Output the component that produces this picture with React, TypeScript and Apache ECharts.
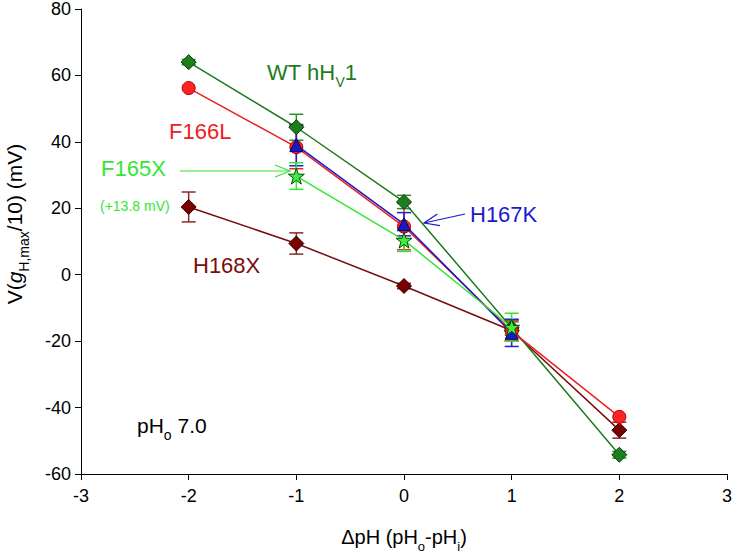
import React, { useEffect, useRef } from "react";
import * as echarts from "echarts";

// ---- Data ----
const xValues = [-2, -1, 0, 1, 2];

const wtMean: (number | null)[] = [64.0, 44.4, 21.9, -16.0, -54.2];
const wtErr: (number | null)[] = [0.8, 3.9, 2.0, 2.2, 1.0];

const f166lMean: (number | null)[] = [56.2, 38.4, 14.5, -17.0, -42.8];
const f166lErr: (number | null)[] = [0, 6.5, 7.0, 2.8, 0];

const h167kMean: (number | null)[] = [null, 39.0, 15.2, -17.5, null];
const h167kErr: (number | null)[] = [null, 6.2, 3.5, 4.1, null];

const f165xMean: (number | null)[] = [null, 29.7, 10.4, -15.8, null];
const f165xErr: (number | null)[] = [null, 4.0, 3.4, 4.2, null];

const h168xMean: (number | null)[] = [20.4, 9.4, -3.4, -16.8, -46.8];
const h168xErr: (number | null)[] = [4.5, 3.2, 0.8, 3.2, 2.4];

const xTicks = { min: -3, max: 3, interval: 1 };
const yTicks = { min: -60, max: 80, interval: 20 };

const FONT = "Liberation Sans";
const STAR =
  "path://M50,0 L61.8,35.4 L98.9,35.4 L68.8,57.3 L80.3,92.7 L50,70.8 L19.7,92.7 L31.2,57.3 L1.1,35.4 L38.2,35.4 Z";

type Seg = { t: string; sub?: boolean; italic?: boolean };

let ctx: CanvasRenderingContext2D | null = null;
function measure(t: string, fs: number, italic?: boolean) {
  if (!ctx) ctx = document.createElement("canvas").getContext("2d");
  if (!ctx) return t.length * fs * 0.55;
  ctx.font = `${italic ? "italic " : ""}${fs}px "${FONT}"`;
  return ctx.measureText(t).width;
}

function buildText(
  segs: Seg[],
  fs: number,
  color: string,
  anchorX: number,
  baselineY: number,
  align: "left" | "center"
) {
  const subFs = Math.round(fs * 0.65);
  const widths = segs.map((s) => measure(s.t, s.sub ? subFs : fs, s.italic));
  const total = widths.reduce((a, b) => a + b, 0);
  let x = align === "center" ? anchorX - total / 2 : anchorX;
  const out: any[] = [];
  segs.forEach((s, i) => {
    out.push({
      type: "text",
      x,
      y: s.sub ? baselineY + 0.1 * fs : baselineY - 0.35 * fs,
      silent: true,
      style: {
        text: s.t,
        fill: color,
        fontSize: s.sub ? subFs : fs,
        fontFamily: FONT,
        fontStyle: s.italic ? "italic" : "normal",
        align: "left",
        verticalAlign: "middle",
      },
    });
    x += widths[i];
  });
  return out;
}

function arrow(x1: number, y1: number, x2: number, y2: number, color: string) {
  const dx = x2 - x1;
  const dy = y2 - y1;
  const len = Math.sqrt(dx * dx + dy * dy);
  const ux = dx / len;
  const uy = dy / len;
  const hl = 15;
  const hw = 6;
  const bx = x2 - ux * hl;
  const by = y2 - uy * hl;
  return [
    {
      type: "line",
      silent: true,
      shape: { x1, y1, x2, y2 },
      style: { stroke: color, lineWidth: 1.2 },
    },
    {
      type: "polyline",
      silent: true,
      shape: {
        points: [
          [bx - uy * hw, by + ux * hw],
          [x2, y2],
          [bx + uy * hw, by - ux * hw],
        ],
      },
      style: { stroke: color, lineWidth: 1.2, fill: "none" },
    },
  ];
}

type SeriesDef = {
  name: string;
  mean: (number | null)[];
  err: (number | null)[];
  line: string;
  fill: string;
  border: string;
  errColor: string;
  symbol: string;
  size: number | number[];
};

const seriesDefs: SeriesDef[] = [
  {
    name: "H168X",
    mean: h168xMean,
    err: h168xErr,
    line: "#7a0c0c",
    fill: "#7a0000",
    border: "#2a0000",
    errColor: "#8a2a2a",
    symbol: "diamond",
    size: [15, 15],
  },
  {
    name: "WT hHV1",
    mean: wtMean,
    err: wtErr,
    line: "#1d7a1d",
    fill: "#1b7f1b",
    border: "#0a3a0a",
    errColor: "#2e8b2e",
    symbol: "diamond",
    size: [15, 15],
  },
  {
    name: "F166L",
    mean: f166lMean,
    err: f166lErr,
    line: "#f02020",
    fill: "#ff2424",
    border: "#b00000",
    errColor: "#e03030",
    symbol: "circle",
    size: 13,
  },
  {
    name: "H167K",
    mean: h167kMean,
    err: h167kErr,
    line: "#1a1acc",
    fill: "#1818c8",
    border: "#000060",
    errColor: "#2020d0",
    symbol: "triangle",
    size: 13,
  },
  {
    name: "F165X",
    mean: f165xMean,
    err: f165xErr,
    line: "#33e633",
    fill: "#3cf03c",
    border: "#0a4a0a",
    errColor: "#33e633",
    symbol: STAR,
    size: 16,
  },
];

export default function App() {
  const ref = useRef<HTMLDivElement>(null);

  useEffect(() => {
    if (!ref.current) return;
    const chart = echarts.init(ref.current, undefined, { renderer: "svg" });

    const series: any[] = [];
    seriesDefs.forEach((d) => {
      const pts: number[][] = [];
      const errPts: number[][] = [];
      xValues.forEach((x, i) => {
        const m = d.mean[i];
        if (m === null || m === undefined) return;
        pts.push([x, m]);
        const e = d.err[i];
        if (e) errPts.push([x, m, e]);
      });
      series.push({
        type: "custom",
        name: d.name + " err",
        silent: true,
        dimensions: ["x", "y", "e"],
        encode: { x: 0, y: 1 },
        data: errPts,
        z: 2,
        renderItem: (_p: any, api: any) => {
          const x = api.value(0);
          const y = api.value(1);
          const e = api.value(2);
          const top = api.coord([x, y + e]);
          const bot = api.coord([x, y - e]);
          const hw = 7;
          const st = { stroke: d.errColor, lineWidth: 1.5 };
          return {
            type: "group",
            children: [
              { type: "line", shape: { x1: top[0], y1: top[1], x2: bot[0], y2: bot[1] }, style: st },
              { type: "line", shape: { x1: top[0] - hw, y1: top[1], x2: top[0] + hw, y2: top[1] }, style: st },
              { type: "line", shape: { x1: bot[0] - hw, y1: bot[1], x2: bot[0] + hw, y2: bot[1] }, style: st },
            ],
          };
        },
      });
      series.push({
        type: "line",
        name: d.name,
        data: pts,
        z: 3,
        symbol: d.symbol,
        symbolSize: d.size,
        showAllSymbol: true,
        lineStyle: { color: d.line, width: 1.5 },
        itemStyle: { color: d.fill, borderColor: d.border, borderWidth: 1 },
      });
    });

    const graphics: any[] = [
      ...buildText(
        [{ t: "WT hH" }, { t: "V", sub: true }, { t: "1" }],
        22,
        "#1d7a1d",
        267,
        80,
        "left"
      ),
      ...buildText([{ t: "F166L" }], 22, "#f02020", 169, 139, "left"),
      ...buildText([{ t: "F165X" }], 22, "#33e633", 101, 176, "left"),
      ...buildText([{ t: "(+13.8 mV)" }], 14, "#33e633", 100, 211, "left"),
      ...buildText([{ t: "H168X" }], 22, "#7a0c0c", 193, 273, "left"),
      ...buildText([{ t: "H167K" }], 22, "#1a1acc", 470, 222, "left"),
      ...buildText(
        [{ t: "pH" }, { t: "o", sub: true }, { t: " 7.0" }],
        21,
        "#000000",
        137,
        433,
        "left"
      ),
      ...buildText(
        [{ t: "\u0394pH (pH" }, { t: "o", sub: true }, { t: "-pH" }, { t: "i", sub: true }, { t: ")" }],
        20,
        "#000000",
        404,
        544,
        "center"
      ),
      ...arrow(180, 171, 290, 171, "#33e633"),
      ...arrow(465, 214, 424, 223, "#1a1acc"),
      {
        type: "group",
        x: 22,
        y: 224,
        rotation: Math.PI / 2,
        children: buildText(
          [
            { t: "V(" },
            { t: "g", italic: true },
            { t: "H,max", sub: true },
            { t: "/10) (mV)" },
          ],
          21,
          "#000000",
          0,
          0,
          "center"
        ),
      },
    ];

    chart.setOption({
      animation: false,
      backgroundColor: "#ffffff",
      grid: { left: 81, right: 27, top: 7, bottom: 78, containLabel: false },
      xAxis: {
        type: "value",
        min: xTicks.min,
        max: xTicks.max,
        interval: xTicks.interval,
        splitLine: { show: false },
        axisLine: { onZero: false, lineStyle: { color: "#000", width: 1 } },
        axisTick: { show: true, inside: false, length: 6, lineStyle: { color: "#000" } },
        axisLabel: { color: "#000", fontSize: 18, fontFamily: FONT, margin: 13 },
      },
      yAxis: {
        type: "value",
        min: yTicks.min,
        max: yTicks.max,
        interval: yTicks.interval,
        splitLine: { show: false },
        axisLine: { show: true, onZero: false, lineStyle: { color: "#000", width: 1 } },
        axisTick: { show: true, inside: false, length: 6, lineStyle: { color: "#000" } },
        axisLabel: { color: "#000", fontSize: 18, fontFamily: FONT, margin: 10 },
      },
      series,
      graphic: graphics,
    });

    return () => chart.dispose();
  }, []);

  return (
    <div
      ref={ref}
      style={{ position: "fixed", left: 0, top: 0, width: 754, height: 552, background: "#fff" }}
    />
  );
}
